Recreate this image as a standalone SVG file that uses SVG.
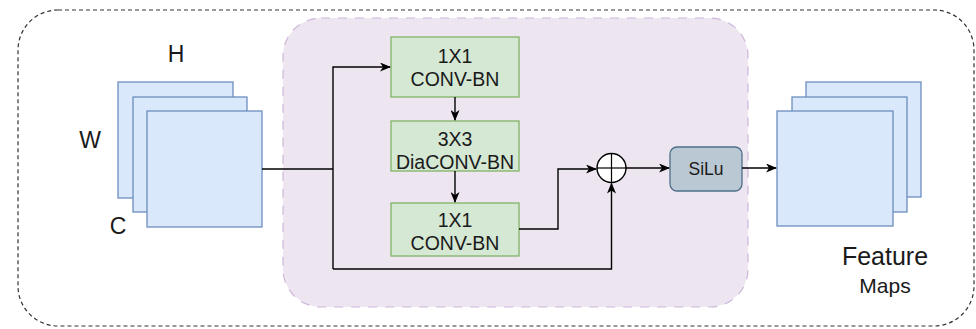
<svg xmlns="http://www.w3.org/2000/svg" width="976" height="329" viewBox="0 0 976 329">
<defs>
<marker id="arr" markerWidth="11" markerHeight="9" refX="10" refY="4.5" orient="auto" markerUnits="userSpaceOnUse">
<path d="M0,0 L11,4.5 L0,9 L3,4.5 z" fill="#000"/>
</marker>
<style>
.map{fill:#dae8fc;stroke:#6c8ebf;stroke-width:1.3}
.conv{fill:#d5e8d4;stroke:#82b366;stroke-width:1.3}
.t{font-family:"Liberation Sans",Arial,sans-serif;fill:#1a1a1a;text-anchor:middle}
.bt{font-size:19.5px}
.lbl{font-size:23px}
.ln{fill:none;stroke:#000;stroke-width:1.4}
</style>
</defs>
<rect id="outer" x="18" y="10" width="956" height="316" rx="40" fill="#fff" stroke="#333" stroke-width="1.2" stroke-dasharray="4,3"/>
<rect id="block" x="283" y="18" width="465" height="289" rx="38" fill="#ede6f1" stroke="#cdb6da" stroke-width="1.2" stroke-dasharray="9,8"/>
<g id="input-maps">
<rect class="map" x="118" y="82" width="115" height="116"/>
<rect class="map" x="133" y="97" width="114" height="115"/>
<rect class="map" x="147" y="111" width="115" height="116"/>
<text class="t lbl" x="176" y="62">H</text>
<text class="t lbl" x="90" y="148">W</text>
<text class="t lbl" x="118" y="234">C</text>
</g>
<g id="conv1">
<rect class="conv" x="391" y="37" width="128" height="60"/>
<text class="t bt" x="455" y="62.5">1X1</text>
<text class="t bt" x="455" y="86">CONV-BN</text>
</g>
<g id="conv2">
<rect class="conv" x="391" y="121" width="128" height="50"/>
<text class="t bt" x="455" y="146">3X3</text>
<text class="t bt" x="455" y="169">DiaCONV-BN</text>
</g>
<g id="conv3">
<rect class="conv" x="391" y="203" width="128" height="53"/>
<text class="t bt" x="455" y="227">1X1</text>
<text class="t bt" x="455" y="250">CONV-BN</text>
</g>
<g id="add">
<circle cx="611.5" cy="168" r="14.5" fill="#fff" stroke="#000" stroke-width="1.4"/>
<line x1="597" y1="168" x2="626" y2="168" stroke="#000" stroke-width="1.2"/>
<line x1="611.5" y1="153.5" x2="611.5" y2="182.5" stroke="#000" stroke-width="1.2"/>
</g>
<g id="silu">
<rect x="670" y="147" width="72" height="44" rx="7" fill="#bac8d3" stroke="#4f6f88" stroke-width="1.3"/>
<text class="t" x="706" y="175" font-size="17.5">SiLu</text>
</g>
<g id="output-maps">
<rect class="map" x="806" y="82" width="115" height="115"/>
<rect class="map" x="792" y="97" width="115" height="115"/>
<rect class="map" x="777" y="111" width="116" height="115"/>
<text class="t" x="885" y="265" font-size="25">Feature</text>
<text class="t" x="885" y="293" font-size="21">Maps</text>
</g>
<g id="connectors">
<polyline class="ln" points="262,169 333,169"/>
<polyline class="ln" points="333,269 333,67 390,67" marker-end="url(#arr)"/>
<polyline class="ln" points="455,97 455,120" marker-end="url(#arr)"/>
<polyline class="ln" points="455,171 455,202" marker-end="url(#arr)"/>
<polyline class="ln" points="519,229 558,229 558,169 596,169" marker-end="url(#arr)"/>
<polyline class="ln" points="333,269 611.5,269 611.5,183.5" marker-end="url(#arr)"/>
<polyline class="ln" points="626,168 669,168" marker-end="url(#arr)"/>
<polyline class="ln" points="742,168 776,168" marker-end="url(#arr)"/>
</g>
</svg>
